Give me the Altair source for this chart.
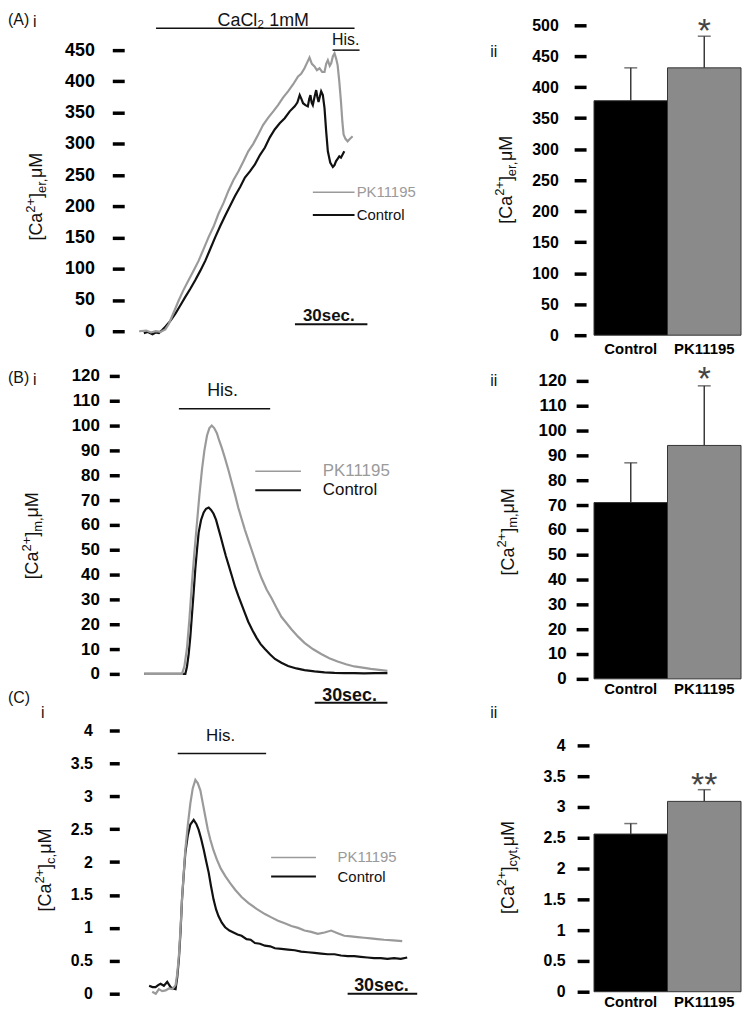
import altair as alt
import pandas as pd

FONT = "Liberation Sans"
PK_LINE = "#9a9a9a"
BAR_GRAY = "#8a8a8a"
INK = "#111111"

# ---------------- data: traces (time in s, concentration) ----------------
A_pk_t = [5, 8, 10, 12, 14, 16, 17.5, 19.5, 21.7, 23.5, 25.8, 28, 30, 32, 34.2, 36.3, 38.3, 40.4, 42.5, 44.6,
          46.7, 48.8, 50.8, 52.9, 55, 57, 59.2, 61.3, 63.3, 65.4, 67.5, 69.6, 71.7, 73, 74.4, 75.5, 76.5, 77.5,
          78.6, 79.6, 80.7, 81.8, 82.8, 83.5, 84.2, 85, 85.6, 86.3, 87, 87.7, 88.3, 89, 89.7, 90.3, 90.8, 91.6,
          92.5, 93.5, 94.6]
A_pk_v = [0, 1, -2, 0, -1, 3, 12, 30, 50, 65, 82, 98, 113, 131, 151, 168, 188, 205, 225, 242,
          256, 272, 288, 300, 315, 330, 342, 352, 362, 374, 384, 395, 408, 412, 421, 430, 438, 428,
          424, 418, 421, 415, 415, 428, 434, 425, 429, 440, 445, 436, 426, 400, 368, 335, 315, 308,
          304, 308, 312]
A_ct_t = [7, 8.5, 10.6, 12, 13.3, 14.7, 16.1, 18.2, 20.3, 22.4, 24.4, 26.5, 28.6, 30.7, 32.8, 34.9, 37, 39,
          41.1, 43.2, 45.3, 47.4, 49.4, 51.5, 53.6, 55.7, 57.8, 59.8, 61.9, 64, 66.1, 68.2, 70.3, 71.4, 72.4,
          73.1, 73.8, 74.8, 75.8, 76.4, 76.9, 77.4, 77.9, 78.6, 79.3, 79.8, 80.3, 80.8, 81.4, 82.1, 82.8, 83.5,
          84.2, 85.2, 86.3, 87, 87.6, 88.3, 89, 89.7, 90.4, 91.1]
A_ct_v = [-3, -1, -5, -2, -3, 2, 7.5, 17, 28.6, 42, 55, 68, 82, 97, 113, 132, 151, 168,
          185, 201, 217, 231, 246, 256, 267, 282, 294, 310, 323, 333, 341, 352, 360, 366, 378,
          372, 365, 362, 360, 372, 378, 366, 362, 375, 386, 375, 367, 375, 384, 378, 357, 320,
          288, 270, 263, 266, 272, 276, 280, 278, 283, 288]

B_pk_t = [7.1, 15, 23, 24, 25.1, 26.1, 27.2, 28.2, 29.3, 30.3, 31.4, 32.4, 33.5, 34.5, 35.5, 36.5, 37.6,
          38.6, 39.7, 41, 42.5, 43.9, 45.3, 46.6, 48, 49.4, 50.8, 52.2, 53.6, 55, 56.4, 58.5, 60.6, 62.7,
          64.7, 66.8, 68.9, 71.7, 74.4, 77.9, 81.4, 84.8, 88.3, 91.8, 95.3, 98.8, 102.2, 105.7, 109.2]
B_pk_v = [0, 0, 0, 3, 10.5, 22, 37, 49, 61, 72, 82.5, 90, 96, 99, 100, 99, 97,
          94, 91, 87, 82, 77, 72, 67, 62.5, 58, 54, 50, 46, 42, 38.5, 34, 30.5, 26.5,
          23, 20.5, 18, 15, 12.5, 10, 8, 6.3, 5, 3.9, 3, 2.5, 2, 1.6, 1.2]
B_ct_t = [7.1, 15, 23, 24.4, 25.1, 25.8, 26.5, 27.2, 27.9, 28.6, 29.3, 30, 31, 32.1, 33.1, 34.2, 35.2,
          36.25, 37.3, 38.3, 39.3, 40.4, 41.4, 42.5, 43.9, 45.3, 46.6, 48, 49.4, 50.8, 52.6, 54.3, 56,
          57.8, 60, 62, 64.7, 67.5, 71, 74.4, 78.6, 82.8, 87, 91.1, 95.3, 99.4, 104, 109.2]
B_ct_v = [0, 0, 0, 0, 3, 8, 15, 24, 33, 42.5, 50, 57, 62, 65, 66.5, 67, 66,
          64.5, 62, 58.5, 55, 51, 47.5, 44, 39.5, 35, 31.5, 28, 24.5, 21, 17.5, 14.5, 12,
          10, 7.8, 6, 4.5, 3.2, 2.2, 1.5, 1, 0.6, 0.4, 0.3, 0.3, 0.2, 0.3, 0.3]

C_pk_t = [10.5, 12, 13.3, 14.7, 16.1, 17.5, 18.9, 20.3, 21, 21.7, 22.4, 23, 23.7, 24.4, 25.4, 26.5, 27.5,
          28.6, 29.6, 30.7, 31.7, 32.8, 33.8, 34.9, 36.2, 37.6, 39.3, 41.1, 43.2, 45.3, 48, 50.8, 54.3,
          57.8, 60.5, 63.3, 66.1, 68.9, 71.7, 74.4, 77.2, 80, 82.8, 85.6, 88.3, 91.1, 93.9, 96.7, 99.4,
          102.2, 105, 107.8, 111.6, 115.4]
C_pk_v = [0.03, 0.0, 0.07, 0.04, 0.05, 0.08, 0.07, 0.13, 0.3, 0.58, 1.0, 1.43, 1.82, 2.19, 2.55, 2.89, 3.12,
          3.25, 3.2, 3.09, 2.9, 2.69, 2.5, 2.34, 2.18, 2.04, 1.9, 1.79, 1.68, 1.58, 1.47, 1.38, 1.29,
          1.21, 1.16, 1.11, 1.07, 1.03, 1.0, 0.96, 0.94, 0.91, 0.93, 0.96, 0.92, 0.88, 0.87, 0.86, 0.85,
          0.84, 0.83, 0.82, 0.81, 0.80]
C_ct_t = [9.2, 10.6, 11.9, 13, 14, 15.4, 16.8, 18.2, 19.2, 20.3, 21, 21.7, 22.4, 23, 23.7, 24.4, 25.4, 26.5,
          27.9, 29, 30, 31, 32.1, 33.1, 34.2, 35.2, 36.25, 37.3, 38.3, 39.7, 41.1, 42.9, 44.6, 46.3, 48,
          50.1, 51.8, 53.6, 55.7, 57.8, 60, 62, 64.7, 67.5, 70.3, 73, 75.8, 78.6, 81.4, 84.2, 87, 89.7,
          92.5, 95.3, 98, 100.8, 103.6, 106.4, 109.2, 112, 114.8, 117.5]
C_ct_v = [0.12, 0.1, 0.1, 0.13, 0.15, 0.12, 0.18, 0.1, 0.08, 0.07, 0.25, 0.53, 0.95, 1.43, 1.8, 2.14, 2.4, 2.57,
          2.64, 2.58, 2.49, 2.36, 2.19, 2.02, 1.84, 1.63, 1.43, 1.28, 1.18, 1.08, 1.01, 0.96, 0.93, 0.9, 0.88,
          0.83, 0.82, 0.77, 0.76, 0.73, 0.72, 0.69, 0.68, 0.67, 0.66, 0.64, 0.63, 0.62, 0.61, 0.60, 0.60, 0.58,
          0.57, 0.57, 0.56, 0.55, 0.54, 0.54, 0.53, 0.54, 0.53, 0.55]

# ---------------- data: bar panels ----------------
bar_cats = ["Control", "PK11195"]
A_bar = [378, 431]
A_err = [53, 51]
B_bar = [71, 94]
B_err = [16, 24]
C_bar = [2.56, 3.09]
C_err = [0.17, 0.19]
A_star, B_star, C_star = 505, 124.5, 3.5

# ---------------- tick values ----------------
A_ticks = [0, 50, 100, 150, 200, 250, 300, 350, 400, 450]
A2_ticks = [0, 50, 100, 150, 200, 250, 300, 350, 400, 450, 500]
B_ticks = [0, 10, 20, 30, 40, 50, 60, 70, 80, 90, 100, 110, 120]
C_ticks = [0, 0.5, 1, 1.5, 2, 2.5, 3, 3.5, 4]

# ---------------- annotation data (time / value coordinates) ----------------
A_cacl = [12.1, 95.4, 485]       # t1, t2, level
A_his = [86.2, 97.5, 450]
A_scale = [70.4, 100.8, 11]
B_his = [21.7, 60.0, 106.8]
B_scale = [78.7, 109.2, -11.6]
C_his = [21.2, 58.3, 3.65]
C_scale = [92.5, 121.7, 0.0]

DUMMY = pd.DataFrame({"d": [0]})
XS = alt.Scale(domain=[0, 121.7], nice=False, zero=False)

W = {'[': 278, ']': 278, 'C': 722, 'a': 556, '2': 556, '+': 584, 'e': 556, 'r': 333, ',': 278,
     ' ': 278, 'μ': 576, 'M': 833, 'm': 833, 'c': 500, 'y': 500, 't': 278, '.': 278}


def tw(s, f):
    return sum(W.get(c, 556) for c in s) * f / 1000.0


def ytitle(parts, xb, yc, f=18, fs=13):
    widths = [tw(s, f if k == "n" else fs) for s, k in parts]
    y = yc + sum(widths) / 2.0
    out = []
    for (s, k), w in zip(parts, widths):
        dx = {"n": 0, "sup": -0.40 * f, "sub": 0.22 * f}[k]
        out.append(alt.Chart(DUMMY).mark_text(
            text=s, angle=270, align="left", baseline="alphabetic", font=FONT,
            fontSize=f if k == "n" else fs, color=INK
        ).encode(x=alt.value(xb + dx), y=alt.value(y)))
        y -= w
    return out


def ptext(s, x, y, size=16, align="left"):
    return alt.Chart(DUMMY).mark_text(text=s, align=align, baseline="middle", font=FONT,
                                      fontSize=size, color=INK).encode(x=alt.value(x), y=alt.value(y))


def left_panel(ys, yaxis, pk, ct, his, scale, his_text, leg, scale_text, extra=None):
    X = lambda: alt.X("t:Q", scale=XS, axis=None)
    Y = lambda: alt.Y("v:Q", scale=ys, axis=yaxis)
    L = []
    L.append(alt.Chart(pd.DataFrame({"t": ct[0], "v": ct[1]})).mark_line(color=INK, strokeWidth=2.2)
             .encode(x=X(), y=Y()))
    L.append(alt.Chart(pd.DataFrame({"t": pk[0], "v": pk[1]})).mark_line(color=PK_LINE, strokeWidth=2.2)
             .encode(x=X(), y=Y()))
    # His. bar
    L.append(alt.Chart(pd.DataFrame({"t": [his[0]], "t2": [his[1]], "v": [his[2]]}))
             .mark_rule(color=INK, strokeWidth=1.5).encode(x=X(), x2="t2:Q", y=Y()))
    ht, hv, hs = his_text
    L.append(alt.Chart(pd.DataFrame({"t": [ht], "v": [hv]}))
             .mark_text(text="His.", font=FONT, fontSize=hs, color=INK, baseline="middle")
             .encode(x=X(), y=Y()))
    # scale bar
    L.append(alt.Chart(pd.DataFrame({"t": [scale[0]], "t2": [scale[1]], "v": [scale[2]]}))
             .mark_rule(color=INK, strokeWidth=2).encode(x=X(), x2="t2:Q", y=Y()))
    st, sv, ss = scale_text
    L.append(alt.Chart(pd.DataFrame({"t": [st], "v": [sv]}))
             .mark_text(text="30sec.", font=FONT, fontSize=ss, fontWeight="bold", color=INK, baseline="middle")
             .encode(x=X(), y=Y()))
    # legend
    l1, l2, lt, vpk, vct, lsize = leg
    L.append(alt.Chart(pd.DataFrame({"t": [l1], "t2": [l2], "v": [vpk]}))
             .mark_rule(color=PK_LINE, strokeWidth=1.6).encode(x=X(), x2="t2:Q", y=Y()))
    L.append(alt.Chart(pd.DataFrame({"t": [l1], "t2": [l2], "v": [vct]}))
             .mark_rule(color=INK, strokeWidth=2).encode(x=X(), x2="t2:Q", y=Y()))
    L.append(alt.Chart(pd.DataFrame({"t": [lt], "v": [vpk]}))
             .mark_text(text="PK11195", font=FONT, fontSize=lsize, color=PK_LINE, align="left", baseline="middle")
             .encode(x=X(), y=Y()))
    L.append(alt.Chart(pd.DataFrame({"t": [lt], "v": [vct]}))
             .mark_text(text="Control", font=FONT, fontSize=lsize, color=INK, align="left", baseline="middle")
             .encode(x=X(), y=Y()))
    if extra:
        L.extend(extra(X, Y))
    return L


def yaxis(vals, fmt, tick, offset, pad, size):
    kw = dict(values=vals, domain=False, grid=False, ticks=True, tickSize=tick, tickWidth=3.5,
              tickColor="black", offset=offset, labelPadding=pad, labelFont=FONT, labelFontSize=size,
              labelFontWeight="bold", labelColor="black", title=None)
    if fmt:
        kw["format"] = fmt
    return alt.Axis(**kw)


def bar_panel(vals, errs, ys, yax, star_v, star_txt, label_pad):
    df = pd.DataFrame({"cat": bar_cats, "val": vals, "err": errs})
    xsc = alt.Scale(domain=bar_cats, paddingInner=0, paddingOuter=0)
    xax = alt.Axis(labelAngle=0, ticks=False, domain=False, labelFont=FONT, labelFontSize=15,
                   labelFontWeight="bold", labelColor="black", labelPadding=label_pad, title=None)
    X = lambda: alt.X("cat:N", scale=xsc, axis=xax)
    base = alt.Chart(df).transform_calculate(top="datum.val + datum.err")
    bars = base.mark_bar(stroke="#333333", strokeWidth=1).encode(
        x=X(), y=alt.Y("val:Q", scale=ys, axis=yax),
        color=alt.Color("cat:N", scale=alt.Scale(domain=bar_cats, range=["#000000", BAR_GRAY]), legend=None))
    rule = base.mark_rule(color="#3a3a3a", strokeWidth=1.5).encode(
        x=X(), y=alt.Y("val:Q", scale=ys, axis=yax), y2="top:Q")
    cap = base.mark_tick(color="#3a3a3a", thickness=1.5, size=13).encode(
        x=X(), y=alt.Y("top:Q", scale=ys, axis=yax))
    star = alt.Chart(pd.DataFrame({"cat": ["PK11195"], "v": [star_v]})).mark_text(
        text=star_txt, font=FONT, fontSize=34, color="#444444", baseline="alphabetic", dy=20
    ).encode(x=X(), y=alt.Y("v:Q", scale=ys, axis=yax))
    return [bars, rule, cap, star]


# ---------------- Row A ----------------
A_ys = alt.Scale(domain=[0, 512], nice=False, zero=False)
A_yax = yaxis(A_ticks, None, 12, 3, 18, 18)


def A_extra(X, Y):
    return [
        alt.Chart(pd.DataFrame({"t": [A_cacl[0]], "t2": [A_cacl[1]], "v": [A_cacl[2]]}))
        .mark_rule(color=INK, strokeWidth=1.5).encode(x=X(), x2="t2:Q", y=Y()),
        alt.Chart(pd.DataFrame({"t": [57.1], "v": [496]}))
        .mark_text(text="CaCl₂ 1mM", font=FONT, fontSize=18, color=INK, baseline="middle")
        .encode(x=X(), y=Y()),
    ]


A_left_layers = left_panel(A_ys, A_yax, (A_pk_t, A_pk_v), (A_ct_t, A_ct_v), A_his, A_scale,
                           (91.7, 466, 16), (77.9, 95.4, 96.3, 222.6, 186, 15), (84.6, 24, 17), A_extra)
A_left_layers += [ptext("(A)", -120, 9, 16), ptext("i", -93, 11, 16, "center")]
A_left_layers += ytitle([("[Ca", "n"), ("2+", "sup"), ("]", "n"), ("er,", "sub"), (" μM", "n")], -86, 184)
A_left = alt.layer(*A_left_layers).properties(width=292, height=322)

A2_ys = alt.Scale(domain=[0, 522], nice=False, zero=False)
A2_yax = yaxis(A2_ticks, None, 12, 8, 16, 16)
A_right_layers = bar_panel(A_bar, A_err, A2_ys, A2_yax, A_star, "*", 6)
A_right_layers += [ptext("ii", -101, 41, 16, "center")]
A_right_layers += ytitle([("[Ca", "n"), ("2+", "sup"), ("]", "n"), ("er,", "sub"), (" μM", "n")], -83, 167)
A_right = alt.layer(*A_right_layers).properties(width=148, height=326)

# ---------------- Row B ----------------
B_ys = alt.Scale(domain=[0, 126], nice=False, zero=False)
B_yax = yaxis(B_ticks, None, 10, 8, 10, 17)
B_left_layers = left_panel(B_ys, B_yax, (B_pk_t, B_pk_v), (B_ct_t, B_ct_v), B_his, B_scale,
                           (40.0, 114, 18), (53.75, 72.9, 82.1, 81.6, 74, 17), (93.3, -8.8, 18))
B_left_layers += [ptext("(B)", -120, 17, 16), ptext("i", -93, 19, 16, "center")]
B_left_layers += ytitle([("[Ca", "n"), ("2+", "sup"), ("]", "n"), ("m,", "sub"), ("μM", "n")], -90, 176)
B_left = alt.layer(*B_left_layers).properties(width=292, height=315)

B2_ys = alt.Scale(domain=[0, 128], nice=False, zero=False)
B2_yax = yaxis(B_ticks, None, 12, 6, 10, 17)
B_right_layers = bar_panel(B_bar, B_err, B2_ys, B2_yax, B_star, "*", 3)
B_right_layers += [ptext("ii", -101, 20, 16, "center")]
B_right_layers += ytitle([("[Ca", "n"), ("2+", "sup"), ("]", "n"), ("m,", "sub"), ("μM", "n")], -81, 172)
B_right = alt.layer(*B_right_layers).properties(width=148, height=320)

# ---------------- Row C ----------------
C_ys = alt.Scale(domain=[0, 4.392], nice=False, zero=False)
C_yax = yaxis(C_ticks, ".1~f", 10, 8, 17, 16)
C_left_layers = left_panel(C_ys, C_yax, (C_pk_t, C_pk_v), (C_ct_t, C_ct_v), C_his, C_scale,
                           (39.2, 3.92, 17), (60.4, 79.2, 88.3, 2.07, 1.78, 15), (106.7, 0.12, 18))
C_left_layers += [ptext("(C)", -120, -7, 16), ptext("i", -85, 8, 16, "center")]
C_left_layers += ytitle([("[Ca", "n"), ("2+", "sup"), ("]", "n"), ("c,", "sub"), (" μM", "n")], -77, 164)
C_left = alt.layer(*C_left_layers).properties(width=292, height=291)

C2_ys = alt.Scale(domain=[0, 4.66], nice=False, zero=False)
C2_yax = yaxis(C_ticks, ".1~f", 12, 5, 12, 16)
C_right_layers = bar_panel(C_bar, C_err, C2_ys, C2_yax, C_star, "**", 3)
C_right_layers += [ptext("ii", -101, 8, 16, "center")]
C_right_layers += ytitle([("[Ca", "n"), ("2+", "sup"), ("]", "n"), ("cyt,", "sub"), ("μM", "n")], -81, 164)
C_right = alt.layer(*C_right_layers).properties(width=148, height=289)

chart = alt.concat(
    A_left, A_right, B_left, B_right, C_left, C_right,
    columns=2, spacing={"row": 26, "column": 178}, bounds="flush", align="each"
).properties(padding=0).configure(font=FONT).configure_view(stroke=None)

chart.save("out.html", embed_options={"renderer": "svg", "actions": False})
